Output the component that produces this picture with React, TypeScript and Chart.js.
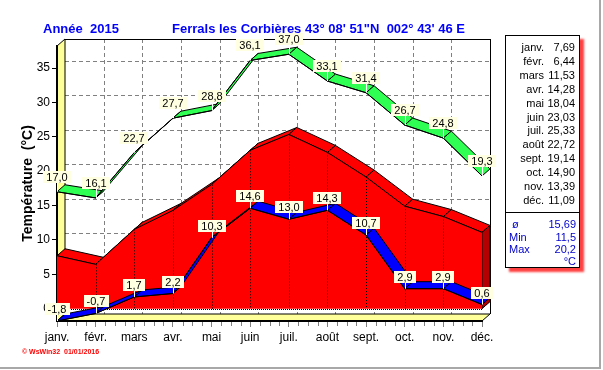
import { useEffect, useRef } from 'react';
import { Chart, registerables } from 'chart.js';

Chart.register(...registerables);

const months = ['janv.', 'févr.', 'mars', 'avr.', 'mai', 'juin', 'juil.', 'août', 'sept.', 'oct.', 'nov.', 'déc.'];
const maxTemps = [17.0, 16.1, 22.7, 27.7, 28.8, 36.1, 37.0, 33.1, 31.4, 26.7, 24.8, 19.3];
const minTemps = [-1.8, -0.7, 1.7, 2.2, 10.3, 14.6, 13.0, 14.3, 10.7, 2.9, 2.9, 0.6];
const meanTemps = [7.69, 6.44, 11.53, 14.28, 18.04, 23.03, 25.33, 22.72, 19.14, 14.9, 13.39, 11.09];
const yTickValues = [0, 5, 10, 15, 20, 25, 30, 35];
const yMin = -1.8;
const yMax = 38.2;
const summaryLabels = ['ø', 'Min', 'Max'];
const summaryValues = ['15,69', '11,5', '20,2'];
const unitLabel = '°C';
const yearTitle = 'Année  2015';
const placeTitle = 'Ferrals les Corbières 43° 08\' 51"N  002° 43\' 46 E';
const yAxisTitle = 'Température  (°C)';
const credit = '© WsWin32  01/01/2016';

const DX = 8;
const DY = -7;
const GREEN = '#2EFF52';
const BLUE = '#0000FF';
const RED = '#FF0000';
const DARKRED = '#B40000';
const YELLOW = '#FFFF99';
const FONT = 'Arial, "Liberation Sans", sans-serif';

const fmt = (v: number, d = 1) => v.toFixed(d).replace('.', ',');

function poly(ctx: any, pts: number[][], fill?: string, stroke?: string) {
  ctx.beginPath();
  ctx.moveTo(pts[0][0], pts[0][1]);
  for (let i = 1; i < pts.length; i++) ctx.lineTo(pts[i][0], pts[i][1]);
  ctx.closePath();
  if (fill) {
    ctx.fillStyle = fill;
    ctx.fill();
  }
  if (stroke) {
    ctx.strokeStyle = stroke;
    ctx.lineWidth = 1;
    ctx.stroke();
  }
}

function seg(ctx: any, x0: number, y0: number, x1: number, y1: number) {
  ctx.beginPath();
  ctx.moveTo(x0, y0);
  ctx.lineTo(x1, y1);
  ctx.stroke();
}

function ribbon(ctx: any, x: any, y: any, values: number[], color: string) {
  for (let i = 0; i < values.length - 1; i++) {
    const x0 = x.getPixelForValue(i);
    const y0 = y.getPixelForValue(values[i]);
    const x1 = x.getPixelForValue(i + 1);
    const y1 = y.getPixelForValue(values[i + 1]);
    poly(ctx, [[x0, y0], [x1, y1], [x1 + DX, y1 + DY], [x0 + DX, y0 + DY]], color, '#000');
  }
}

function drawLabels(ctx: any, x: any, y: any, values: number[], gap: number) {
  ctx.font = '11px ' + FONT;
  ctx.textAlign = 'center';
  ctx.textBaseline = 'middle';
  values.forEach((v, i) => {
    const px = Math.round(x.getPixelForValue(i));
    const py = y.getPixelForValue(v);
    const t = fmt(v);
    const w = Math.ceil(ctx.measureText(t).width) + 6;
    const h = 12;
    const bottom = Math.round(py - gap);
    const left = Math.round(px - w / 2);
    ctx.strokeStyle = '#fff';
    ctx.lineWidth = 1;
    seg(ctx, px + 0.5, bottom, px + 0.5, py);
    ctx.fillStyle = '#FFFFE1';
    ctx.fillRect(left, bottom - h, w, h);
    ctx.fillStyle = '#000';
    ctx.fillText(t, px, bottom - h / 2 + 0.5);
  });
}

const depthPlugin = {
  id: 'depth3d',
  beforeDraw(chart: any) {
    const { ctx, chartArea: a, scales } = chart;
    const x = scales.x;
    const y = scales.y;
    ctx.save();
    // back wall grid
    ctx.strokeStyle = '#808080';
    ctx.lineWidth = 1;
    ctx.setLineDash([4, 3]);
    for (const v of yTickValues) {
      const py = Math.round(y.getPixelForValue(v) + DY) + 0.5;
      seg(ctx, a.left + DX, py, a.right + DX, py);
    }
    for (let i = 1; i < months.length - 1; i++) {
      const px = Math.round(x.getPixelForValue(i) + DX) + 0.5;
      seg(ctx, px, a.top + DY, px, a.bottom + DY);
    }
    ctx.setLineDash([]);
    // back wall border
    ctx.strokeStyle = '#000';
    seg(ctx, a.left + DX, Math.round(a.top + DY) + 0.5, a.right + DX + 1, Math.round(a.top + DY) + 0.5);
    seg(ctx, Math.round(a.right + DX) + 0.5, a.top + DY, Math.round(a.right + DX) + 0.5, a.bottom + DY);
    // left wall
    poly(ctx, [[a.left, a.top], [a.left + DX, a.top + DY], [a.left + DX, a.bottom + DY], [a.left, a.bottom]], YELLOW, '#000');
    // floor
    poly(ctx, [[a.left, a.bottom], [a.left + DX, a.bottom + DY], [a.right + DX, a.bottom + DY], [a.right, a.bottom]], YELLOW, '#000');
    // minor x ticks
    ctx.strokeStyle = '#808080';
    for (let i = 0; i < months.length - 1; i++) {
      for (let k = 1; k < 4; k++) {
        const px = Math.round(x.getPixelForValue(i + k / 4)) + 0.5;
        seg(ctx, px, a.bottom + 1, px, a.bottom + 5);
      }
    }
    ctx.restore();
  },
  beforeDatasetsDraw(chart: any) {
    const { ctx, scales } = chart;
    const x = scales.x;
    const y = scales.y;
    ctx.save();
    // red area top surface
    for (let i = 0; i < meanTemps.length - 1; i++) {
      const x0 = x.getPixelForValue(i);
      const y0 = y.getPixelForValue(meanTemps[i]);
      const x1 = x.getPixelForValue(i + 1);
      const y1 = y.getPixelForValue(meanTemps[i + 1]);
      poly(ctx, [[x0, y0], [x1, y1], [x1 + DX, y1 + DY], [x0 + DX, y0 + DY]], RED, '#000');
    }
    // right side face
    const n = meanTemps.length - 1;
    const xr = x.getPixelForValue(n);
    const yt = y.getPixelForValue(meanTemps[n]);
    const yz = y.getPixelForValue(0);
    poly(ctx, [[xr, yt], [xr + DX, yt + DY], [xr + DX, yz + DY], [xr, yz]], DARKRED, '#000');
    ctx.restore();
  },
  afterDatasetDraw(chart: any, args: any) {
    if (args.index !== 2) return;
    const { ctx, chartArea: a, scales } = chart;
    const x = scales.x;
    const y = scales.y;
    ctx.save();
    ctx.strokeStyle = '#000';
    ctx.lineWidth = 1;
    ctx.setLineDash([1, 2]);
    const yz = y.getPixelForValue(0);
    for (let i = 1; i < meanTemps.length - 1; i++) {
      const px = Math.round(x.getPixelForValue(i)) + 0.5;
      seg(ctx, px, y.getPixelForValue(meanTemps[i]), px, yz);
    }
    ctx.setLineDash([1, 1]);
    seg(ctx, a.left, Math.round(yz) + 0.5, a.right, Math.round(yz) + 0.5);
    ctx.restore();
  },
  beforeDatasetDraw(chart: any, args: any) {
    const { ctx, scales } = chart;
    ctx.save();
    if (args.index === 0) ribbon(ctx, scales.x, scales.y, maxTemps, GREEN);
    if (args.index === 1) ribbon(ctx, scales.x, scales.y, minTemps, BLUE);
    ctx.restore();
  },
  afterDraw(chart: any) {
    const { ctx, scales } = chart;
    ctx.save();
    drawLabels(ctx, scales.x, scales.y, maxTemps, 9);
    drawLabels(ctx, scales.x, scales.y, minTemps, 6);
    ctx.restore();
  },
};

export default function App() {
  const ref = useRef<HTMLCanvasElement>(null);
  useEffect(() => {
    document.body.style.margin = '0';
    const chart = new Chart(ref.current as HTMLCanvasElement, {
      type: 'line',
      data: {
        labels: months,
        datasets: [
          { label: 'Max', data: maxTemps, borderColor: '#000', borderWidth: 1, pointRadius: 0, fill: false, order: 2, tension: 0 },
          { label: 'Min', data: minTemps, borderColor: '#000', borderWidth: 1, pointRadius: 0, fill: false, order: 1, tension: 0 },
          { label: 'Moyenne', data: meanTemps, borderColor: '#000', borderWidth: 1, backgroundColor: RED, pointRadius: 0, fill: 'origin', order: 3, tension: 0 },
        ],
      },
      options: {
        animation: false,
        responsive: false,
        devicePixelRatio: 1,
        layout: { padding: { top: 46, right: 121, bottom: 19, left: 0 } },
        plugins: { legend: { display: false }, tooltip: { enabled: false }, title: { display: false } },
        scales: {
          x: {
            type: 'category',
            offset: false,
            afterFit: (s: any) => { s.height = 30; },
            grid: { display: true, drawOnChartArea: false, drawTicks: true, tickLength: 6, tickColor: '#808080', color: '#808080' },
            border: { display: true, color: '#000', width: 2 },
            ticks: { color: '#000', font: { family: FONT, size: 12 }, padding: 3, autoSkip: false, maxRotation: 0 },
          },
          y: {
            type: 'linear',
            min: yMin,
            max: yMax,
            afterFit: (s: any) => { s.width = 57; },
            afterBuildTicks: (s: any) => { s.ticks = yTickValues.map((v) => ({ value: v })); },
            grid: { display: true, drawOnChartArea: false, drawTicks: true, tickLength: 5, tickColor: '#000', color: '#000' },
            border: { display: true, color: '#000', width: 2 },
            ticks: { color: '#000', font: { family: FONT, size: 12 }, padding: 2 },
            title: { display: true, text: yAxisTitle, color: '#000', font: { family: FONT, size: 14, weight: 'bold' }, padding: { top: 20, bottom: 0 } },
          },
        },
      },
      plugins: [depthPlugin],
    } as any);
    return () => chart.destroy();
  }, []);

  const rowTop = (i: number) => 4 + i * 13.9;
  const sumTop = (i: number) => 181 + i * 12.7;

  return (
    <div style={{ position: 'relative', width: 603, height: 370, background: '#fff', overflow: 'hidden', fontFamily: FONT }}>
      <canvas ref={ref} width={603} height={370} style={{ position: 'absolute', left: 0, top: 0, width: 603, height: 370 }} />
      <div style={{ position: 'absolute', left: 43, top: 21, lineHeight: '15px', fontSize: 13, fontWeight: 'bold', color: '#0000FF', whiteSpace: 'pre' }}>{yearTitle}</div>
      <div style={{ position: 'absolute', left: 172, top: 21, lineHeight: '15px', fontSize: 13, fontWeight: 'bold', color: '#0000FF', whiteSpace: 'pre' }}>{placeTitle}</div>
      <div style={{ position: 'absolute', left: 505, top: 35, width: 73, height: 231, border: '1px solid #000', background: '#fff', boxShadow: '4px 4px 2px rgba(255,30,30,0.85)', fontSize: 11, color: '#000' }}>
        {months.map((m, i) => (
          <div key={m} style={{ position: 'absolute', left: 0, top: rowTop(i), width: 70, height: 14, lineHeight: '14px' }}>
            <span style={{ position: 'absolute', left: 0, width: 38, textAlign: 'right' }}>{m}</span>
            <span style={{ position: 'absolute', left: 38, width: 31, textAlign: 'right' }}>{fmt(meanTemps[i], 2)}</span>
          </div>
        ))}
        <div style={{ position: 'absolute', left: 0, top: 176, width: 73, height: 1, background: '#000' }} />
        {summaryLabels.map((l, i) => (
          <div key={l} style={{ position: 'absolute', left: 0, top: sumTop(i), width: 70, height: 14, lineHeight: '14px', color: '#0000CC' }}>
            <span style={{ position: 'absolute', left: i === 0 ? 6 : 3 }}>{l}</span>
            <span style={{ position: 'absolute', right: 0, textAlign: 'right' }}>{summaryValues[i]}</span>
          </div>
        ))}
        <div style={{ position: 'absolute', right: 3, top: sumTop(3) - 1, height: 14, lineHeight: '14px', color: '#0000CC' }}>{unitLabel}</div>
      </div>
      <div style={{ position: 'absolute', left: 22, top: 347, fontSize: 7, fontWeight: 'bold', color: '#FF0000', whiteSpace: 'pre', lineHeight: '9px' }}>{credit}</div>
      <div style={{ position: 'absolute', left: 599, top: 0, width: 2, height: 369, background: '#A8A8A8' }} />
      <div style={{ position: 'absolute', left: 0, top: 367, width: 601, height: 2, background: '#A8A8A8' }} />
    </div>
  );
}
